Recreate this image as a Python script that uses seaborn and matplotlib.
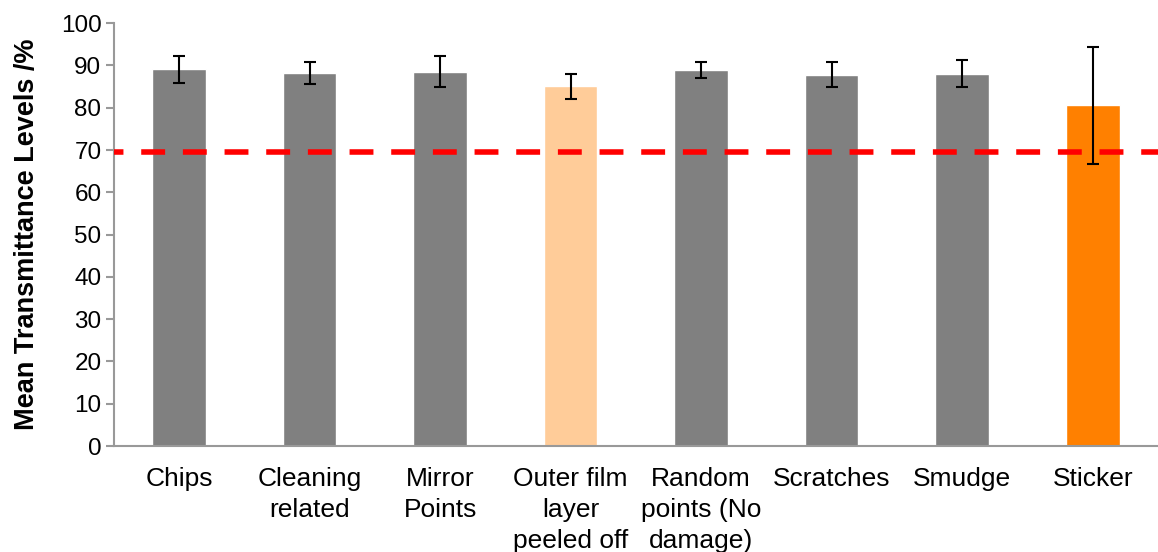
import pandas as pd
import matplotlib.pyplot as plt
import numpy as np
import seaborn as sns

categories = ['Chips', 'Cleaning\nrelated', 'Mirror\nPoints', 'Outer film\nlayer\npeeled off',
              'Random\npoints (No\ndamage)', 'Scratches', 'Smudge', 'Sticker']
means = [89.1, 88.2, 88.5, 85.1, 89.0, 87.8, 88.1, 80.6]
errs = [3.2, 2.65, 3.65, 2.95, 1.9, 2.95, 3.2, 13.85]
bar_colors = ['#808080', '#808080', '#808080', '#FFCC99', '#808080', '#808080', '#808080', '#FF8000']
threshold = 69.5

df = pd.DataFrame({'cat': categories, 'mean': means})

sns.set_style('white')
plt.rcParams['font.family'] = ['Liberation Sans', 'DejaVu Sans']
plt.rcParams['text.color'] = 'black'
plt.rcParams['axes.labelcolor'] = 'black'
plt.rcParams['xtick.labelcolor'] = 'black'
plt.rcParams['ytick.labelcolor'] = 'black'

fig = plt.figure(figsize=(11.58, 5.52), dpi=100)
ax = fig.add_axes([0.0984, 0.192, 0.9016, 0.766])

sns.barplot(data=df, x='cat', y='mean', hue='cat', palette=bar_colors,
            legend=False, errorbar=None, width=0.41, saturation=1, ax=ax)
xpos = np.arange(len(categories))
ax.errorbar(xpos, means, yerr=errs, fmt='none', ecolor='black',
            elinewidth=1.5, capsize=4.5, capthick=1.5, zorder=3)
ax.axhline(threshold, color='#FF0000', lw=4, ls=(2.6, (4.3, 3.2)), zorder=4)

ax.set_ylim(0, 100)
ax.set_xlim(-0.5, len(categories) - 0.5)
ax.set_yticks(range(0, 101, 10))
ax.set_xticks(xpos)
ax.set_xticklabels(categories, fontsize=19, linespacing=1.36)
ax.set_xticks(np.arange(-0.5, len(categories), 1), minor=True)
ax.tick_params(axis='x', which='major', length=0, pad=15)
ax.tick_params(axis='x', which='minor', length=7, width=1.5, color='#999999', direction='out')
ax.tick_params(axis='y', labelsize=17.5, length=6, width=1.5, color='#999999', direction='out',
               left=True, pad=3)
for s in ['top', 'right']:
    ax.spines[s].set_visible(False)
for s in ['left', 'bottom']:
    ax.spines[s].set_color('#999999')
    ax.spines[s].set_linewidth(1.5)
ax.set_xlabel('')
ax.set_ylabel('Mean Transmittance Levels /%', fontsize=19.5, fontweight='bold', labelpad=15)

plt.savefig('out.png', dpi=100)
plt.close()
